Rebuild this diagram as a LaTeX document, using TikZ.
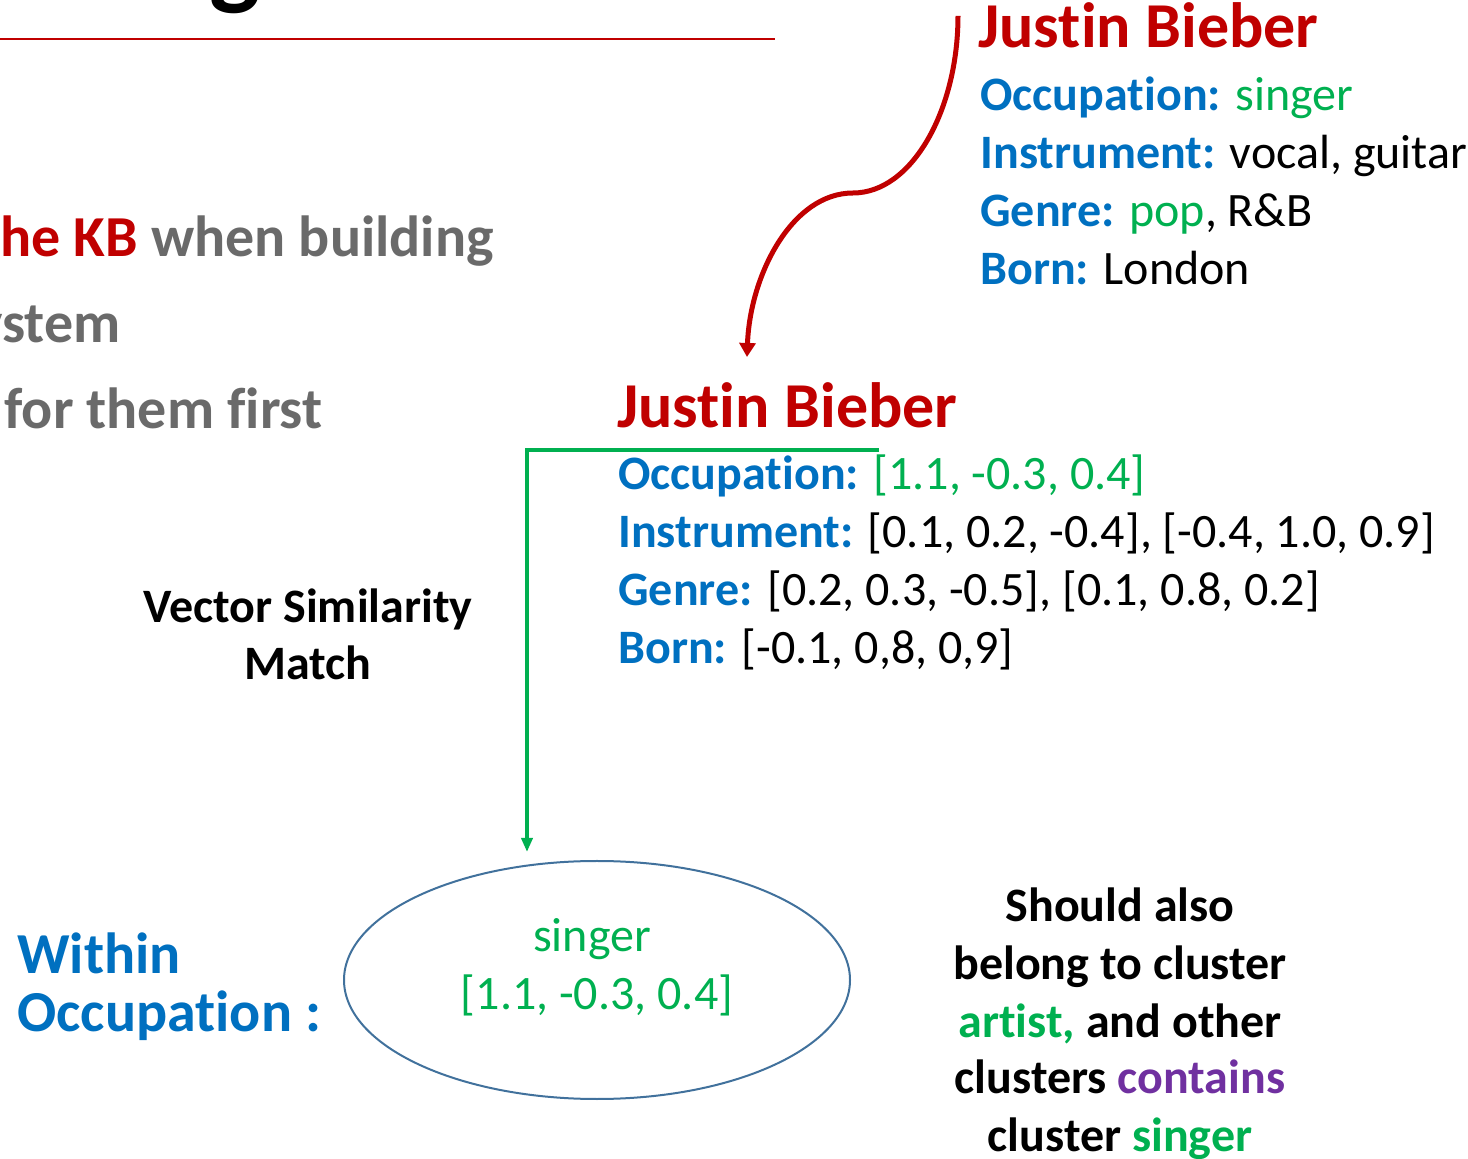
\documentclass[tikz,border=0pt]{standalone}
\usepackage{fontspec}
\setmainfont{Carlito}[Ligatures=NoCommon]
\usetikzlibrary{arrows.meta, positioning, shapes.geometric, calc}

\definecolor{kbred}{HTML}{C00000}
\definecolor{keyblue}{HTML}{0070C0}
\definecolor{kbgreen}{HTML}{00B050}
\definecolor{kbpurple}{HTML}{7030A0}
\definecolor{slidegray}{HTML}{6A6A6A}
\definecolor{edgeblue}{HTML}{41719C}

\begin{document}
\begin{tikzpicture}[x=0.5pt, y=-0.5pt,
  entity/.style={font=\fontsize{32}{38}\selectfont\bfseries, text=kbred, anchor=base west, inner sep=0pt},
  attr/.style={font=\fontsize{24}{29}\selectfont, anchor=base west, inner sep=0pt},
  note/.style={font=\fontsize{24}{29}\selectfont\bfseries, anchor=base, inner sep=0pt},
  bullet/.style={font=\fontsize{29}{35}\selectfont\bfseries, text=slidegray, inner sep=0pt},
  space/.style={font=\fontsize{29}{35}\selectfont\bfseries, text=keyblue, anchor=base west, inner sep=0pt},
  cluster/.style={ellipse, draw=edgeblue, line width=1pt, minimum width=253pt, minimum height=119pt, inner sep=0pt},
  link/.style={line width=2.5pt, kbred, -{Triangle[length=7pt, width=8pt]}},
  match/.style={line width=2pt, kbgreen, -{Triangle[length=7pt, width=5.5pt]}}
]
  \useasboundingbox (0,0) rectangle (1468,1159);
  \clip (0,0) rectangle (1468,1159);

  % Slide title (only its lower edge is in view) and rule
  \node[font=\fontsize{54}{64}\selectfont\bfseries, anchor=base west, inner sep=0pt] (titleg) at (209,-4) {g};
  \draw[kbred, line width=0.75pt] (0,39) -- (775,39);

  % Bullet text on the left
  \node[bullet, anchor=base west] (point1) at (0,257) {\textcolor{kbred}{he KB} when building};
  \node[bullet, anchor=base east] (point2) at (121,343) {ystem};
  \node[bullet, anchor=base west] (point3) at (4,429) {for them first};

  % Entity as stored in the KB
  \node[entity] (kbname) at (978,48) {Justin Bieber};
  \foreach \n/\y/\key/\val in {
    1/111/Occupation/{\textcolor{kbgreen}{singer}},
    2/169/Instrument/{vocal, guitar},
    3/227/Genre/{\textcolor{kbgreen}{pop}, R\&B},
    4/285/Born/{London}
  } {
    \node[attr] (kb\n) at (980,\y) {\textcolor{keyblue}{\bfseries\key:} \val};
  }

  % Same entity with embedded values
  \node[entity] (vecname) at (617,428) {Justin Bieber};
  \foreach \n/\y/\key/\val in {
    1/490/Occupation/{\textcolor{kbgreen}{[1.1, -0.3, 0.4]}},
    2/548/Instrument/{[0.1, 0.2, -0.4], [-0.4, 1.0, 0.9]},
    3/606/Genre/{[0.2, 0.3, -0.5], [0.1, 0.8, 0.2]},
    4/664/Born/{[-0.1, 0,8, 0,9]}
  } {
    \node[attr] (vec\n) at (618,\y) {\textcolor{keyblue}{\bfseries\key:} \val};
  }

  % Matching label
  \node[note] (vsm1) at (308,623) {Vector Similarity};
  \node[note] (vsm2) at (308,680) {Match};

  % Cluster inside the occupation space
  \node[space] (within1) at (17,973) {Within};
  \node[space] (within2) at (17,1031) {Occupation :};
  \node[cluster] (cluster) at (597,980) {};
  \node[attr, anchor=base, text=kbgreen] (clusterword) at (592,952) {singer};
  \node[attr, anchor=base, text=kbgreen] (clustervec) at (597,1009) {[1.1, -0.3, 0.4]};

  % Remark on the right
  \foreach \n/\y/\txt in {
    1/922/{Should also},
    2/979/{belong to cluster},
    3/1037/{\textcolor{kbgreen}{artist,} and other},
    4/1094/{clusters \textcolor{kbpurple}{contains}},
    5/1151/{cluster \textcolor{kbgreen}{singer}}
  } {
    \node[note] (remark\n) at (1120,\y) {\txt};
  }

  % Connectors
  \coordinate (kbstart) at ($(kbname.west)+(-20,-10)$);
  \coordinate (kbbend) at (853,193);
  \coordinate (vectop) at (747,357);
  \draw[link] (kbstart) .. controls (958,110) and (912,193) .. (kbbend)
                        .. controls (792,193) and (750,275) .. (vectop);

  \coordinate (matchstart) at (879,450);
  \coordinate (matchcorner) at (527,450);
  \coordinate (matchend) at (527,852);
  \draw[match] (matchstart) -- (matchcorner) -- (matchend);
\end{tikzpicture}
\end{document}
